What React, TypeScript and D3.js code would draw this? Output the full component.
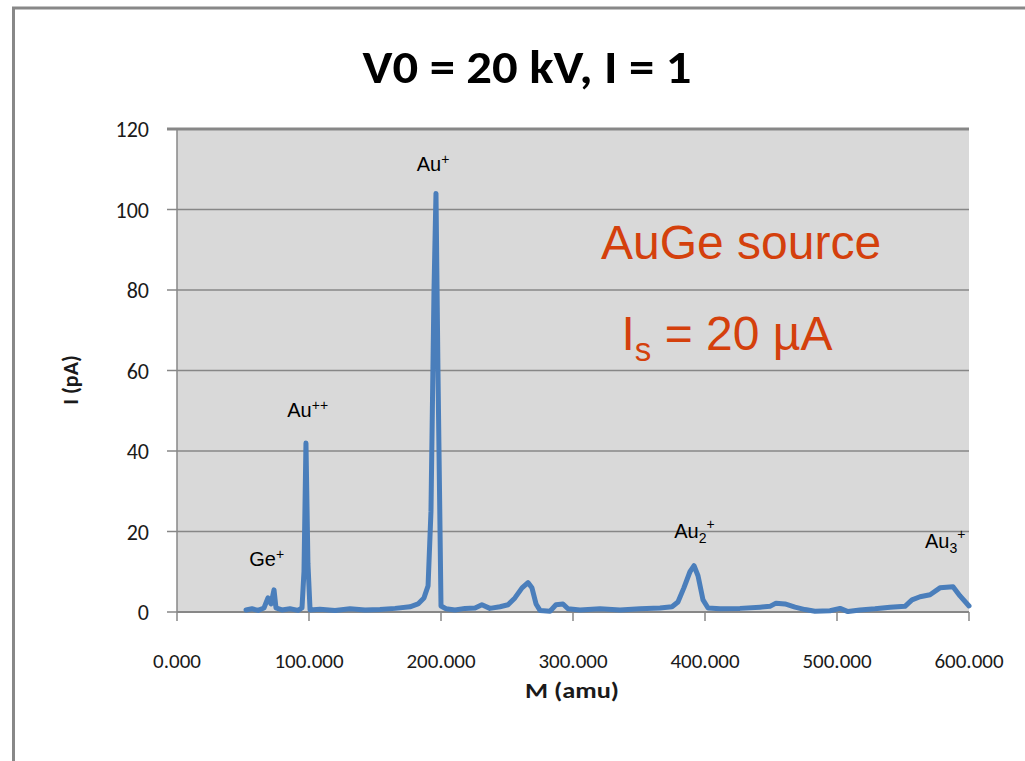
import React from "react";
import * as d3 from "d3";

// Mass spectrum of the AuGe liquid-metal ion source: mass (amu) vs. current (pA)
const massAmu = [
  52.3, 56.8, 61.4, 65.9, 68.9, 71.2, 73.5, 75.0, 79.5, 85.6, 91.7, 94.7, 96.2, 97.7, 99.2, 100.8,
  108.3, 119.7, 131.1, 142.4, 153.8, 165.2, 176.5, 182.6, 187.1, 190.2, 192.4, 194.7, 196.2, 197.7,
  200.0, 203.8, 210.6, 218.2, 225.8, 231.0, 237.0, 244.7, 250.8, 256.0, 261.4, 265.9, 268.9, 272.0,
  275.0, 282.6, 287.1, 292.4, 296.2, 305.3, 320.5, 335.6, 350.8, 365.9, 375.0, 379.5, 384.0, 388.6,
  391.7, 394.7, 398.5, 402.3, 411.4, 426.5, 441.7, 449.2, 453.8, 460.6, 468.2, 475.8, 483.3, 494.7,
  502.3, 508.3, 517.4, 528.8, 540.2, 551.5, 556.8, 562.9, 570.5, 578.0, 587.9, 593.2, 600.0,
];
const currentPA = [
  0.5, 0.8, 0.4, 1.0, 3.5, 2.0, 5.5, 1.0, 0.5, 0.8, 0.4, 1.0, 10, 42, 12, 0.5,
  0.7, 0.4, 0.8, 0.5, 0.6, 0.9, 1.3, 2.0, 3.5, 6.5, 25, 80, 104, 60,
  1.5, 0.8, 0.5, 0.9, 1.0, 1.8, 0.9, 1.3, 1.8, 3.5, 6.0, 7.3, 6.0, 2.0,
  0.4, 0.2, 1.8, 2.0, 0.8, 0.5, 0.8, 0.5, 0.8, 1.0, 1.3, 2.5, 6.0, 10,
  11.5, 9.0, 3.0, 1.0, 0.8, 0.9, 1.2, 1.4, 2.2, 2.0, 1.2, 0.6, 0.2, 0.3,
  0.9, 0.1, 0.5, 0.8, 1.2, 1.4, 3.0, 3.8, 4.3, 6.0, 6.3, 4.0, 1.5,
];

const xTicks = [0, 100, 200, 300, 400, 500, 600];
const yTicks = [0, 20, 40, 60, 80, 100, 120];

// Peak labels: ion name, subscript, superscript, anchor mass and current
const peakIons = ["Ge", "Au", "Au", "Au", "Au"];
const peakSubs = ["", "", "", "2", "3"];
const peakSups = ["+", "++", "+", "+", "+"];
const peakMass = [68, 99, 194, 392, 582];
const peakLevel = [11.5, 48.5, 109.5, 18.5, 16];

const W = 1025;
const H = 761;
const left = 177;
const right = 969;
const top = 129;
const bottom = 612;

export default function App() {
  const x = d3.scaleLinear().domain([0, 600]).range([left, right]);
  const y = d3.scaleLinear().domain([0, 120]).range([bottom, top]);
  const points: [number, number][] = massAmu.map((m, i) => [m, currentPA[i]]);
  const line = d3
    .line<[number, number]>()
    .x((d) => x(d[0]))
    .y((d) => y(d[1]));

  const axisFont = "'Carlito', 'Lato', 'Open Sans', sans-serif";
  const arial = "'Liberation Sans', Arial, sans-serif";
  const gridColor = "#878787";
  const orange = "#d4400c";

  return (
    <svg
      width={W}
      height={H}
      style={{ position: "absolute", left: 0, top: 0, background: "#fff" }}
    >
      {/* outer frame */}
      <rect x={13.5} y={8} width={W + 20} height={H + 20} fill="none" stroke="#888" strokeWidth={3} />

      {/* title */}
      <text
        x={527}
        y={83}
        textAnchor="middle"
        fontFamily={axisFont}
        fontWeight="bold"
        fontSize={47}
        textLength={329}
        lengthAdjust="spacingAndGlyphs"
        fill="#000"
      >
        V0 = 20 kV, I = 1
      </text>

      {/* plot area */}
      <rect x={left} y={top} width={right - left} height={bottom - top} fill="#d9d9d9" />

      {/* horizontal gridlines */}
      {yTicks.map((t) => (
        <line
          key={"g" + t}
          x1={left - 10}
          x2={right}
          y1={y(t)}
          y2={y(t)}
          stroke={gridColor}
          strokeWidth={t === 120 ? 3 : 1.5}
        />
      ))}

      {/* axes */}
      <line x1={left} x2={left} y1={top} y2={bottom} stroke={gridColor} strokeWidth={1.5} />
      <line x1={left} x2={right} y1={bottom} y2={bottom} stroke={gridColor} strokeWidth={2} />
      {xTicks.map((t) => (
        <line
          key={"xt" + t}
          x1={x(t)}
          x2={x(t)}
          y1={bottom}
          y2={bottom + 9}
          stroke={gridColor}
          strokeWidth={1.5}
        />
      ))}

      {/* y tick labels */}
      {yTicks.map((t) => (
        <text
          key={"yl" + t}
          x={149}
          y={y(t) + 8}
          textAnchor="end"
          fontFamily={axisFont}
          fontSize={22}
          fill="#1a1a1a"
        >
          {t}
        </text>
      ))}

      {/* x tick labels */}
      {xTicks.map((t) => (
        <text
          key={"xl" + t}
          x={x(t)}
          y={668}
          textAnchor="middle"
          fontFamily={axisFont}
          fontSize={21}
          fill="#1a1a1a"
        >
          {d3.format(".3f")(t)}
        </text>
      ))}

      {/* axis titles */}
      <text
        x={572}
        y={698}
        textAnchor="middle"
        fontFamily={axisFont}
        fontWeight="bold"
        fontSize={22}
        textLength={94}
        lengthAdjust="spacingAndGlyphs"
        fill="#1a1a1a"
      >
        M (amu)
      </text>
      <text
        transform={`translate(78, 380) rotate(-90)`}
        textAnchor="middle"
        fontFamily={axisFont}
        fontWeight="bold"
        fontSize={22}
        fill="#1a1a1a"
      >
        I (pA)
      </text>

      {/* spectrum */}
      <path
        d={line(points) ?? ""}
        fill="none"
        stroke="#4a7ebb"
        strokeWidth={5}
        strokeLinejoin="round"
        strokeLinecap="round"
      />

      {/* peak labels */}
      {peakIons.map((ion, i) => (
        <text
          key={"pk" + i}
          x={x(peakMass[i])}
          y={y(peakLevel[i])}
          textAnchor="middle"
          fontFamily={arial}
          fontSize={20}
          fill="#000"
        >
          {ion}
          {peakSubs[i] && (
            <tspan fontSize={14} dy={5}>
              {peakSubs[i]}
            </tspan>
          )}
          <tspan fontSize={14} dy={peakSubs[i] ? -14 : -7}>
            {peakSups[i]}
          </tspan>
        </text>
      ))}

      {/* source annotation */}
      <text
        x={741}
        y={259}
        textAnchor="middle"
        fontFamily={arial}
        fontSize={48}
        fill={orange}
      >
        AuGe source
      </text>
      <text
        x={727}
        y={350}
        textAnchor="middle"
        fontFamily={arial}
        fontSize={48}
        fill={orange}
      >
        I
        <tspan fontSize={33} dy={11}>
          s
        </tspan>
        <tspan dy={-11}> = 20 µA</tspan>
      </text>
    </svg>
  );
}
